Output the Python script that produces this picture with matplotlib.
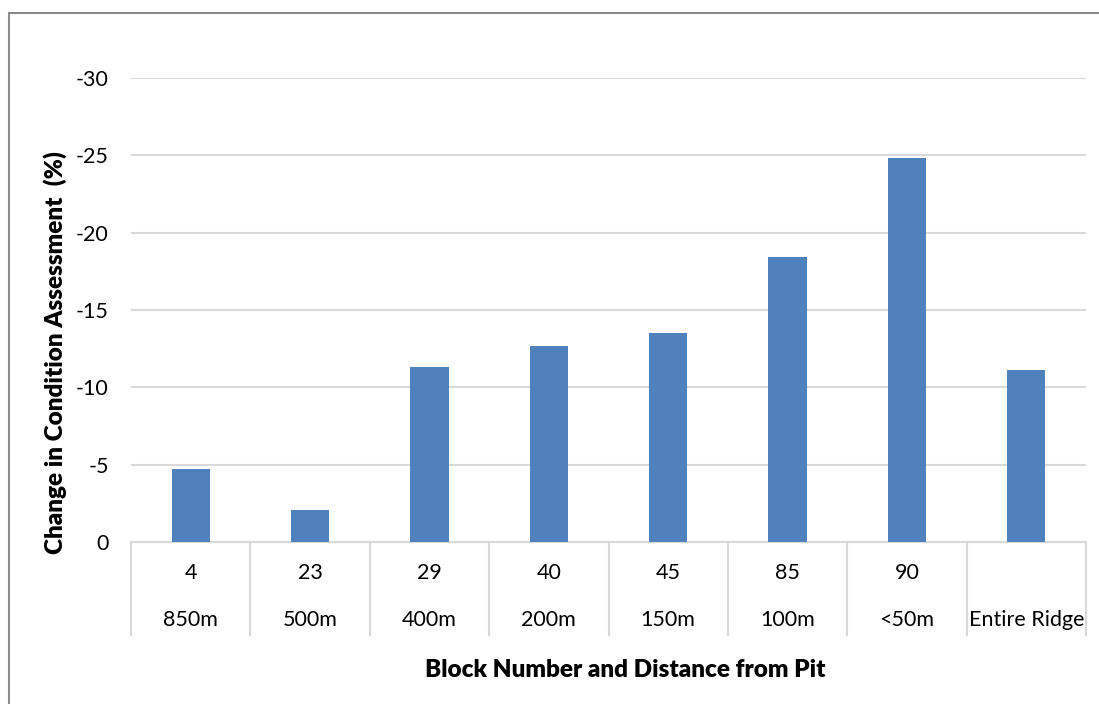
import matplotlib
matplotlib.use("Agg")
import matplotlib.pyplot as plt
from matplotlib.patches import Rectangle

plt.rcParams['font.family'] = ['Lato', 'DejaVu Sans']

# block numbers, distance from pit and change in condition (%)
blocks = ['4', '23', '29', '40', '45', '85', '90', '']
distances = ['850m', '500m', '400m', '200m', '150m', '100m', '<50m', 'Entire Ridge']
change = [-4.7, -2.1, -11.3, -12.7, -13.5, -18.4, -24.8, -11.1]
y_ticks = [0, -5, -10, -15, -20, -25, -30]

BAR_COLOR = '#4f81bd'
GRID_COLOR = '#d9d9d9'

fig = plt.figure(figsize=(10.99, 7.04), dpi=100)
ax = fig.add_axes([131 / 1099, 1 - 542 / 704, (1086 - 131) / 1099, (542 - 78) / 704])

x = list(range(len(change)))
ax.bar(x, change, width=0.32, color=BAR_COLOR, zorder=3)

ax.set_xlim(-0.5, len(change) - 0.5)
ax.set_ylim(0, -30)
ax.set_yticks(y_ticks)
ax.set_yticklabels([str(v) for v in y_ticks], fontsize=15.5)
ax.tick_params(axis='y', length=0, pad=16)
ax.tick_params(axis='x', length=0, labelbottom=False)
ax.grid(axis='y', color=GRID_COLOR, linewidth=1.5, zorder=0)
for side in ['left', 'right', 'top']:
    ax.spines[side].set_visible(False)
ax.spines['bottom'].set_color(GRID_COLOR)
ax.spines['bottom'].set_linewidth(1.5)

# two-level category axis with separators
n = len(change)
for k in range(n + 1):
    ax.plot([k / n, k / n], [0, -0.2], transform=ax.transAxes,
            color=GRID_COLOR, linewidth=1.5, clip_on=False)
for i in range(n):
    ax.text((i + 0.5) / n, -31 / 464, blocks[i], transform=ax.transAxes,
            ha='center', va='center', fontsize=15.5)
    ax.text((i + 0.5) / n, -78 / 464, distances[i], transform=ax.transAxes,
            ha='center', va='center', fontsize=15.5)

fig.text(625 / 1099, 1 - 670 / 704, 'Block Number and Distance from Pit',
         ha='center', va='center', fontsize=17.5, fontweight='heavy')
fig.text(55 / 1099, 1 - 353 / 704, 'Change in Condition Assessment  (%)',
         ha='center', va='center', rotation=90, fontsize=17.5, fontweight='heavy')

# outer chart border (left and top edges visible)
fig.patches.append(Rectangle((9 / 1099, -0.1), 1.2, 1 - 13 / 704 + 0.1,
                             transform=fig.transFigure, fill=False,
                             edgecolor='#8c8c8c', linewidth=1.5))

fig.savefig('out.png', dpi=100)
